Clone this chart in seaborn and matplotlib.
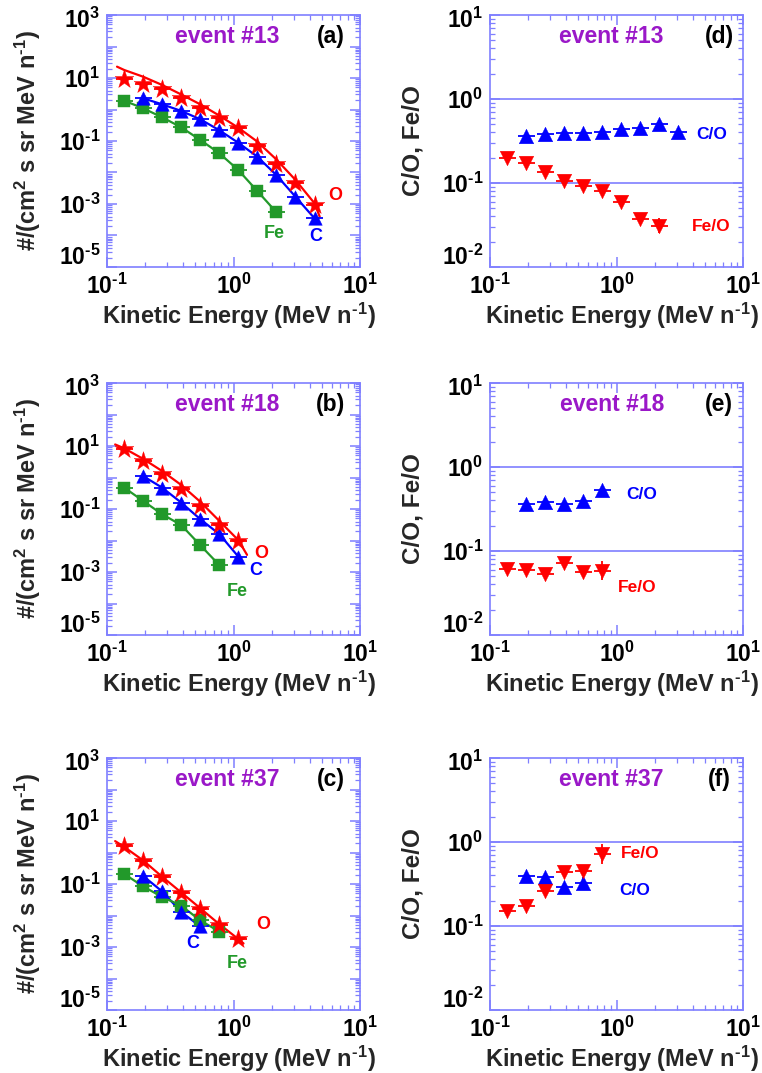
import numpy as np
import matplotlib
matplotlib.use("Agg")
import matplotlib.pyplot as plt
import matplotlib.ticker as mticker
from matplotlib.transforms import ScaledTranslation
import seaborn as sns

# ---- data ----
# panel (a) event #13
a_O_E = [0.137, 0.193, 0.273, 0.386, 0.546, 0.772, 1.09, 1.54, 2.18, 3.09, 4.37]
a_O = [9.3, 6.5, 4.4, 2.37, 1.14, 0.55, 0.25, 0.071, 0.018, 0.0046, 0.00093]
a_O_fit_E = [0.12, 0.137, 0.193, 0.273, 0.386, 0.546, 0.772, 1.09, 1.54, 2.18, 3.09, 4.37, 4.8]
a_O_fit = [22.9, 17.9, 11.0, 6.0, 3.0, 1.46, 0.64, 0.265, 0.096, 0.026, 0.0058, 0.00105, 0.0004]
a_C_E = [0.193, 0.273, 0.386, 0.546, 0.772, 1.09, 1.54, 2.18, 3.09, 4.37]
a_C = [2.27, 1.46, 0.90, 0.49, 0.22, 0.088, 0.032, 0.0083, 0.0017, 0.00035]
a_Fe_E = [0.137, 0.193, 0.273, 0.386, 0.546, 0.772, 1.09, 1.54, 2.18]
a_Fe = [1.9, 1.09, 0.565, 0.272, 0.108, 0.041, 0.012, 0.0026, 0.00055]

# panel (b) event #18
b_O_E = [0.137, 0.193, 0.273, 0.386, 0.546, 0.772, 1.09]
b_O = [7.8, 3.3, 1.26, 0.44, 0.125, 0.031, 0.0093]
b_O_fit_E = [0.116, 0.137, 0.193, 0.273, 0.386, 0.546, 0.772, 1.09, 1.28]
b_O_fit = [11.2, 8.4, 3.9, 1.6, 0.58, 0.17, 0.042, 0.0103, 0.0035]
b_C_E = [0.193, 0.273, 0.386, 0.546, 0.772, 1.09]
b_C = [1.11, 0.475, 0.16, 0.0475, 0.016, 0.0031]
b_Fe_E = [0.137, 0.193, 0.273, 0.386, 0.546, 0.772]
b_Fe = [0.475, 0.18, 0.068, 0.031, 0.0071, 0.00166]

# panel (c) event #37
c_O_E = [0.137, 0.193, 0.273, 0.386, 0.546, 0.772, 1.09]
c_O = [1.56, 0.55, 0.162, 0.052, 0.016, 0.0051, 0.0018]
c_O_fit_E = [0.116, 0.137, 0.193, 0.273, 0.386, 0.546, 0.772, 1.09, 1.2]
c_O_fit = [2.3, 1.5, 0.56, 0.17, 0.054, 0.017, 0.0053, 0.0018, 0.0013]
c_C_E = [0.193, 0.273, 0.386, 0.546]
c_C = [0.18, 0.058, 0.013, 0.0045]
c_Fe_E = [0.137, 0.193, 0.273, 0.386, 0.546, 0.772]
c_Fe = [0.207, 0.084, 0.0387, 0.0205, 0.007, 0.0031]

# ratios (d) (e) (f); err = relative 1-sigma
d_CO_E = [0.193, 0.273, 0.386, 0.546, 0.772, 1.09, 1.54, 2.18, 3.09]
d_CO = [0.363, 0.38, 0.39, 0.39, 0.41, 0.44, 0.455, 0.50, 0.40]
d_CO_err = [0.03, 0.03, 0.03, 0.03, 0.03, 0.04, 0.05, 0.06, 0.12]
d_FeO_E = [0.137, 0.193, 0.273, 0.386, 0.546, 0.772, 1.09, 1.54, 2.18]
d_FeO = [0.197, 0.172, 0.137, 0.106, 0.093, 0.080, 0.060, 0.037, 0.031]
d_FeO_err = [0.03, 0.03, 0.03, 0.04, 0.04, 0.05, 0.07, 0.1, 0.22]

e_CO_E = [0.193, 0.273, 0.386, 0.546, 0.772]
e_CO = [0.366, 0.383, 0.366, 0.398, 0.538]
e_CO_err = [0.04, 0.04, 0.05, 0.06, 0.1]
e_FeO_E = [0.137, 0.193, 0.273, 0.386, 0.546, 0.772]
e_FeO = [0.0617, 0.060, 0.053, 0.071, 0.057, 0.058]
e_FeO_err = [0.04, 0.05, 0.06, 0.07, 0.12, 0.3]

f_CO_E = [0.193, 0.273, 0.386, 0.546]
f_CO = [0.39, 0.38, 0.289, 0.325]
f_CO_err = [0.05, 0.06, 0.1, 0.18]
f_FeO_E = [0.137, 0.193, 0.273, 0.386, 0.546, 0.772]
f_FeO = [0.152, 0.175, 0.259, 0.435, 0.455, 0.72]
f_FeO_err = [0.05, 0.06, 0.08, 0.1, 0.12, 0.3]

REF_LINES = [1.0, 0.1]

RED = "#ff0000"
BLUE = "#0000ff"
GREEN = "#22992a"
PURPLE = "#9a18c8"
AXC = "#7f7fff"
HALF_BIN = 2 ** 0.22
HY = "\u2010"  # short hyphen like the original superscripts

sns.set_style("ticks")
plt.rcParams["font.family"] = ["Liberation Sans", "DejaVu Sans"]
plt.rcParams["font.weight"] = "bold"
plt.rcParams["mathtext.fontset"] = "custom"
plt.rcParams["mathtext.rm"] = "Liberation Sans:bold"
plt.rcParams["mathtext.bf"] = "Liberation Sans:bold"
plt.rcParams["mathtext.it"] = "Liberation Sans:bold"
plt.rcParams["mathtext.default"] = "bf"

fig = plt.figure(figsize=(7.62, 10.73), dpi=100)
W, H = 253 / 762, 252 / 1073
lefts = [107 / 762, 490 / 762]
bottoms = [1 - 267 / 1073, 1 - 635 / 1073, 1 - 1010 / 1073]

XLABEL = "Kinetic Energy (MeV n$^{" + HY + "1}$)"
YLABEL = "#/(cm$^{2}$ s sr MeV n$^{" + HY + "1}$)"


def decade_fmt(every_other):
    def f(v, pos):
        e = int(round(np.log10(v)))
        if every_other and e % 2 == 0:
            return ""
        s = str(e).replace("-", HY)
        return r"$\mathbf{10^{%s}}$" % s
    return mticker.FuncFormatter(f)


def style_axes(ax, ylim, every_other):
    ax.set_xscale("log")
    ax.set_yscale("log")
    ax.set_xlim(0.1, 10)
    ax.set_ylim(*ylim)
    for s in ax.spines.values():
        s.set_color(AXC)
        s.set_linewidth(1.2)
    for axis in (ax.xaxis, ax.yaxis):
        axis.set_major_locator(mticker.LogLocator(base=10, numticks=20))
        axis.set_minor_locator(mticker.LogLocator(base=10, subs=np.arange(2, 10), numticks=40))
        axis.set_minor_formatter(mticker.NullFormatter())
    ax.xaxis.set_major_formatter(decade_fmt(False))
    ax.yaxis.set_major_formatter(decade_fmt(every_other))
    ax.tick_params(which="both", direction="in", top=True, right=True,
                   color=AXC, labelcolor="black", labelsize=16.5)
    ax.tick_params(which="major", length=7, width=1.1, pad=5)
    ax.tick_params(which="minor", length=3.5, width=0.9)
    ax.set_xlabel(XLABEL, fontsize=17, fontweight="bold", labelpad=1)
    ax.xaxis.label.set_x(0.52)


def points(ax, x, y, color, marker, size, rel_err=None):
    x = np.asarray(x)
    y = np.asarray(y)
    yerr = None
    if rel_err is not None:
        r = np.asarray(rel_err)
        yerr = [y - y / (1 + r), y * r]
    ax.errorbar(x, y, xerr=[x - x / HALF_BIN, x * HALF_BIN - x], yerr=yerr,
                fmt="none", ecolor=color, elinewidth=1.3, capsize=0)
    sns.scatterplot(x=x, y=y, ax=ax, marker=marker, s=size, color=color,
                    edgecolor=color, linewidth=0.3, zorder=5, legend=False)


def flux_panel(pos, title, tag, o, c, fe, labels):
    ax = fig.add_axes(pos)
    style_axes(ax, (1e-5, 1e3), True)
    o_e, o_v, o_fe, o_fv = o
    sns.lineplot(x=o_fe, y=o_fv, ax=ax, color=RED, linewidth=1.6, sort=False)
    sns.lineplot(x=c[0], y=c[1], ax=ax, color=BLUE, linewidth=1.6, sort=False)
    sns.lineplot(x=fe[0], y=fe[1], ax=ax, color=GREEN, linewidth=1.6, sort=False)
    points(ax, fe[0], fe[1], GREEN, "s", 75)
    points(ax, c[0], c[1], BLUE, "^", 95)
    points(ax, o_e, o_v, RED, "*", 200)
    ax.set_ylabel(YLABEL, fontsize=17, fontweight="bold", labelpad=11)
    ax.text(0.474, 0.913, title, transform=ax.transAxes, color=PURPLE,
            fontsize=16.5, fontweight="bold", ha="center", va="center")
    ax.text(0.885, 0.913, tag, transform=ax.transAxes, color="black",
            fontsize=16.5, fontweight="bold", ha="center", va="center")
    for txt, col, (tx, ty) in zip(["O", "C", "Fe"], [RED, BLUE, GREEN], labels):
        ax.text(tx, ty, txt, transform=ax.transAxes, color=col,
                fontsize=13, fontweight="bold", ha="center", va="center")
    return ax


def ratio_panel(pos, title, tag, co, feo, labels):
    ax = fig.add_axes(pos)
    style_axes(ax, (1e-2, 1e1), False)
    for ref in REF_LINES:
        ax.axhline(ref, color=AXC, linewidth=1.2, zorder=1)
    points(ax, co[0], co[1], BLUE, "^", 110, co[2])
    points(ax, feo[0], feo[1], RED, "v", 110, feo[2])
    ax.set_ylabel("C/O, Fe/O", fontsize=17.5, fontweight="bold", labelpad=12)
    ax.text(0.481, 0.913, title, transform=ax.transAxes, color=PURPLE,
            fontsize=16.5, fontweight="bold", ha="center", va="center")
    ax.text(0.905, 0.913, tag, transform=ax.transAxes, color="black",
            fontsize=16.5, fontweight="bold", ha="center", va="center")
    for txt, col, (tx, ty) in zip(["C/O", "Fe/O"], [BLUE, RED], labels):
        ax.text(tx, ty, txt, transform=ax.transAxes, color=col,
                fontsize=12.5, fontweight="bold", ha="center", va="center")
    return ax


axes = []
axes.append(flux_panel([lefts[0], bottoms[0], W, H], "event #13", "(a)",
                       (a_O_E, a_O, a_O_fit_E, a_O_fit), (a_C_E, a_C), (a_Fe_E, a_Fe),
                       [(0.901, 0.282), (0.826, 0.120), (0.660, 0.134)]))
axes.append(flux_panel([lefts[0], bottoms[1], W, H], "event #18", "(b)",
                       (b_O_E, b_O, b_O_fit_E, b_O_fit), (b_C_E, b_C), (b_Fe_E, b_Fe),
                       [(0.611, 0.325), (0.589, 0.257), (0.513, 0.171)]))
axes.append(flux_panel([lefts[0], bottoms[2], W, H], "event #37", "(c)",
                       (c_O_E, c_O, c_O_fit_E, c_O_fit), (c_C_E, c_C), (c_Fe_E, c_Fe),
                       [(0.618, 0.338), (0.339, 0.265), (0.515, 0.186)]))
axes.append(ratio_panel([lefts[1], bottoms[0], W, H], "event #13", "(d)",
                        (d_CO_E, d_CO, d_CO_err), (d_FeO_E, d_FeO, d_FeO_err),
                        [(0.876, 0.524), (0.876, 0.160)]))
axes.append(ratio_panel([lefts[1], bottoms[1], W, H], "event #18", "(e)",
                        (e_CO_E, e_CO, e_CO_err), (e_FeO_E, e_FeO, e_FeO_err),
                        [(0.60, 0.559), (0.58, 0.187)]))
axes.append(ratio_panel([lefts[1], bottoms[2], W, H], "event #37", "(f)",
                        (f_CO_E, f_CO, f_CO_err), (f_FeO_E, f_FeO, f_FeO_err),
                        [(0.57, 0.475), (0.593, 0.621)]))

# like the original, the lowest y label sits a bit above its tick, the top one a bit below
fig.canvas.draw()
for ax in axes:
    lo, hi = ax.get_ylim()
    for tick in ax.yaxis.get_major_ticks():
        loc = tick.get_loc()
        if np.isclose(loc, lo):
            dy = 0.12
        elif np.isclose(loc, hi):
            dy = -0.03
        else:
            continue
        tick.label1.set_transform(tick.label1.get_transform()
                                  + ScaledTranslation(0, dy, fig.dpi_scale_trans))

fig.savefig("out.png", dpi=100)
